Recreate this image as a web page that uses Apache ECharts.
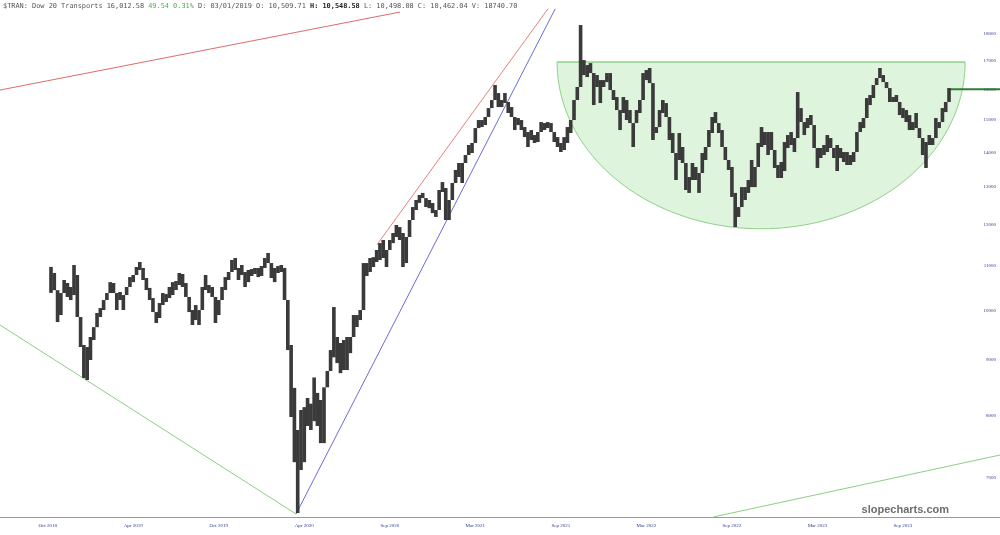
<!DOCTYPE html>
<html><head><meta charset="utf-8">
<script src="https://cdn.jsdelivr.net/npm/echarts@6/dist/echarts.min.js"></script>
<style>html,body{margin:0;padding:0;background:#fff}#c{width:1000px;height:535px}</style>
</head><body><div id="c"></div>
<script>
// ---- data (weekly bars, Dow Jones Transportation Average) ----
const firstWeek = '2018-07-16';
const weekCount = 304;
const dataStartWeek = 15;
const weekHigh = [10970,10830,10440,10376,10668,10600,10510,11014,10782,9860,9290,9250,9450,9650,9945,10050,10223,10376,10620,10600,10332,10400,10332,10510,10735,10782,10968,11085,10945,10713,10490,10266,9965,10158,10376,10354,10510,10620,10645,10828,10805,10600,10266,10008,10115,10008,10510,10782,10555,10510,10115,10223,10510,10735,10852,11132,11180,10945,11014,10852,10898,10920,10945,10945,10990,11180,11300,11014,10945,10990,11014,10945,10223,9290,8480,7753,8090,8140,8300,8200,8670,8390,8264,8490,8790,9191,10072,9450,9330,9389,9450,9450,9902,9902,10008,11060,11060,11180,11200,11372,11540,11616,11372,11616,11790,11993,11940,11790,11690,12121,12460,12648,12783,12840,12700,12648,12568,12382,12920,13140,12975,12648,13114,13481,13684,13684,13918,14218,14280,14740,14994,14994,15090,15380,15646,16153,15880,15646,15880,15580,15414,14994,15058,14994,14772,14616,14678,14523,14616,14930,14898,14930,14898,14585,14460,14280,14460,14772,14994,15646,16085,18352,17035,16855,16925,16430,16500,16325,16325,16570,16570,15982,15746,15220,15746,15646,15316,14898,15316,15646,16570,16677,16750,15880,14772,15316,15646,15546,15090,14585,13771,14585,14158,13395,13282,13684,13568,13395,13978,14158,14678,15090,15250,14898,14678,14158,13771,13568,12840,12460,13000,13000,13198,13771,13568,14280,14772,14616,14616,14616,14007,13626,13713,14310,14523,14616,14430,15914,15380,14930,15058,15154,14523,14007,14128,14218,14523,14430,14128,14218,14128,14007,14007,13918,14007,14616,14930,15058,15712,15813,16153,16395,16750,16500,16255,15914,15746,15813,15580,15380,15316,15154,14930,15220,14740,14310,14310,14523,14430,15058,14930,15380,15580,16050];
const weekLow = [10380,10440,9755,9902,10376,10290,10223,10332,9860,9250,8660,8623,8998,9389,9650,9860,10008,10223,10443,10376,10008,10223,10008,10332,10555,10620,10782,10898,10668,10443,10223,9965,9735,9840,10115,10180,10266,10332,10443,10555,10510,10290,9965,9694,9797,9694,10008,10443,10376,10290,9735,9902,10223,10443,10668,10898,10898,10668,10782,10510,10620,10760,10805,10735,10760,10945,11060,10713,10620,10828,10852,10223,9191,7970,7240,6498,7120,7240,7820,7753,7900,7820,7540,7540,8495,8808,9050,8940,8750,8808,8808,9130,9530,9653,9797,10008,10760,10852,10968,11085,11132,11180,10968,11372,11540,11690,11616,10968,11060,11810,12200,12382,12570,12700,12460,12430,12300,12200,12700,12865,12121,12121,12730,13198,13282,13114,13684,13978,13978,14460,14740,14772,14835,15090,15414,15646,15414,15414,15546,15220,15090,14678,14835,14678,14460,14158,14370,14280,14310,14740,14678,14740,14616,14310,14158,14007,14067,14280,14585,14994,15646,16200,16500,16430,16570,15480,16085,15546,16085,16255,15982,15646,15316,14678,15316,14994,14898,14158,14994,15220,16220,16325,16220,14370,14585,14994,15220,15090,14370,13978,13198,13771,13684,12920,12840,13198,13198,12840,13568,13771,14370,14585,14898,14585,14158,13771,13481,12730,11940,12200,12460,12648,12840,13000,13000,13771,14158,14218,13918,14067,13540,13254,13254,13452,14128,14218,14007,15154,14930,14523,14740,14835,14128,13540,13830,13918,14007,14128,13830,13452,13830,13713,13626,13626,13713,14128,14616,14740,15154,15480,15712,16153,16395,16255,16050,15580,15580,15580,15154,15058,14930,14678,14678,14740,14430,13918,13540,14218,14218,14616,14740,15154,15250,15813];
const lastPrice = 16012.58;
const yTicks = [7000, 8000, 9000, 10000, 11000, 12000, 13000, 14000, 15000, 16000, 17000, 18000];
const yRange = [6443, 19357];
const xTickLabels = ['Oct 2018','Apr 2019','Oct 2019','Apr 2020','Sep 2020','Mar 2021','Sep 2021','Mar 2022','Sep 2022','Mar 2023','Sep 2023'];
const xTickFirst = 14, xTickStep = 26;
// annotation lines: [weekIndex, price] pairs
const redTopLine = [[-0.5, 15982], [121.1, 18867]];
const greenLowLine = [[-0.5, 9694], [89.5, 6484]];
const blueChannel = [[89.5, 6484], [168.3, 19000]];
const redChannel = [[114.1, 11500], [166.1, 19000]];
const greenRightLine = [[216.3, 6443], [303.5, 7351]];
const cup = {left: 168.85, right: 292.9, rim: 16963, bottom: 11897};
const header = '$TRAN: Dow 20 Transports 16,012.58 ';
const headerChg = '49.54 0.31%';
const headerMid = ' D: 03/01/2019 O: 10,509.71 ';
const headerHigh = 'H: 10,548.58';
const headerEnd = ' L: 10,498.08 C: 10,462.04 V: 18740.70';

// ---- build ----
const L = Math.log10;
const cats = [];
const d0 = new Date(firstWeek + 'T00:00:00Z');
for (let i = 0; i < weekCount; i++) {
  const d = new Date(d0.getTime() + i * 7 * 86400000);
  cats.push(d.toISOString().slice(0, 10));
}
const bars = weekHigh.map((h, j) => [dataStartWeek + j, L(weekLow[j]), L(h)]);
const lastIdx = dataStartWeek + weekHigh.length - 1;
const toLog = arr => arr.map(p => [p[0], L(p[1])]);

const chart = echarts.init(document.getElementById('c'), null, {renderer: 'canvas'});
const lineSeries = (data, color, w) => ({
  type: 'line', xAxisIndex: 1, yAxisIndex: 0, data: toLog(data), symbol: 'none',
  lineStyle: {color: color, width: w || 1}, silent: true, z: 3, clip: true
});
chart.setOption({
  animation: false,
  backgroundColor: '#fff',
  grid: {left: 0, right: 0, top: 0, bottom: 18, containLabel: false},
  xAxis: [{
    type: 'category', data: cats, boundaryGap: true,
    axisLine: {lineStyle: {color: '#9a9a9a', width: 1}},
    axisTick: {show: false},
    axisLabel: {
      interval: (i) => i >= xTickFirst && (i - xTickFirst) % xTickStep === 0 && (i - xTickFirst) / xTickStep < xTickLabels.length,
      formatter: (v, i) => xTickLabels[(i - xTickFirst) / xTickStep] || '',
      fontSize: 5, color: '#2f3a8f', fontFamily: 'Liberation Serif', margin: 6
    },
    splitLine: {show: false}
  }, {
    type: 'value', min: -0.5, max: weekCount - 0.5, show: false
  }],
  yAxis: [{
    type: 'value', position: 'right', min: L(yRange[0]), max: L(yRange[1]),
    axisLine: {show: false}, axisTick: {show: false}, splitLine: {show: false},
    axisLabel: {
      inside: true, margin: 4, fontSize: 5, color: '#2f3a8f', fontFamily: 'Liberation Serif',
      customValues: yTicks.map(L),
      formatter: v => String(Math.round(Math.pow(10, v)))
    }
  }],
  series: [
    {
      type: 'custom', xAxisIndex: 1, yAxisIndex: 0, silent: true, z: 1,
      data: [[cup.left, cup.right, L(cup.rim), L(cup.bottom)]],
      renderItem: (params, api) => {
        const pl = api.coord([api.value(0), api.value(2)]);
        const pr = api.coord([api.value(1), api.value(2)]);
        const pb = api.coord([(api.value(0) + api.value(1)) / 2, api.value(3)]);
        const cx = (pl[0] + pr[0]) / 2, cy = pl[1];
        const a = (pr[0] - pl[0]) / 2, b = pb[1] - cy;
        const pts = [];
        for (let t = 0; t <= 180; t += 2) {
          const r = t * Math.PI / 180;
          pts.push([cx - a * Math.cos(r), cy + b * Math.sin(r)]);
        }
        return {type: 'group', children: [
          {type: 'polygon', shape: {points: pts}, style: {fill: 'rgba(150,220,140,0.30)', stroke: '#8fd08a', lineWidth: 1}},
          {type: 'line', shape: {x1: pl[0], y1: cy, x2: pr[0], y2: cy}, style: {stroke: '#8fd08a', lineWidth: 1}}
        ]};
      }
    },
    {
      type: 'custom', xAxisIndex: 0, yAxisIndex: 0, silent: true, z: 4,
      data: bars, encode: {x: 0, y: [1, 2]},
      renderItem: (params, api) => {
        const k = api.value(0);
        let lo = api.value(1), hi = api.value(2);
        const prev = bars[params.dataIndex - 1];
        // join to the previous week's range so the trace stays continuous
        if (prev) {
          if (lo > prev[2]) lo = prev[2];
          if (hi < prev[1]) hi = prev[1];
        }
        const pLo = api.coord([k, lo]);
        const pHi = api.coord([k, hi]);
        const w = api.size([1, 0])[0];
        return {type: 'rect', shape: {x: pLo[0] - w * 0.55, y: pHi[1], width: w * 1.1, height: Math.max(1.5, pLo[1] - pHi[1])},
          style: {fill: '#3a3a3a'}};
      }
    },
    lineSeries(redTopLine, '#e06a6a'),
    lineSeries(greenLowLine, '#8ccf84'),
    lineSeries(blueChannel, '#6b6bdc'),
    lineSeries(redChannel, '#e88080'),
    lineSeries(greenRightLine, '#8ccf84'),
    lineSeries([[lastIdx, lastPrice], [weekCount - 0.5, lastPrice]], '#2e7d32', 2)
  ],
  graphic: [
    {type: 'text', left: 3, top: 3, silent: true, style: {
      text: header + '{g|' + headerChg + '}' + headerMid + '{b|' + headerHigh + '}' + headerEnd,
      font: '6.9px "DejaVu Sans Mono", monospace', fill: '#555',
      rich: {g: {fill: '#4caf50', font: '6.9px "DejaVu Sans Mono", monospace'}, b: {fill: '#222', font: 'bold 6.9px "DejaVu Sans Mono", monospace'}}
    }},
    {type: 'text', right: 51, top: 504, silent: true, style: {
      text: 'slopecharts.com', font: 'bold 11px "Liberation Sans", Arial, sans-serif', fill: '#6e6e6e'
    }}
  ]
});
</script></body></html>
